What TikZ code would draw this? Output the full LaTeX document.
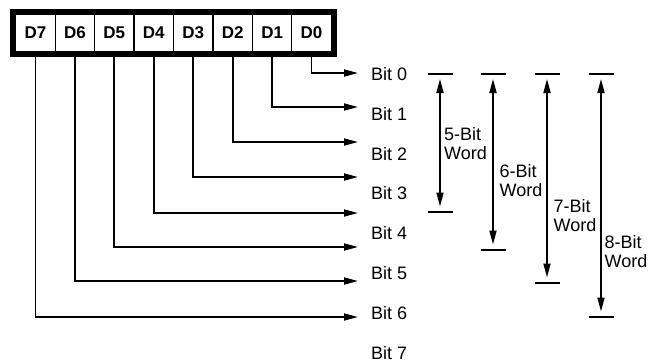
\documentclass[tikz,border=0pt]{standalone}
\usepackage{fontspec}
\setmainfont{Liberation Sans}
\usetikzlibrary{arrows.meta}
\begin{document}
\begin{tikzpicture}[x=1pt,y=-1pt,
  conn/.style={line width=1.7pt},
  arr/.style={conn,-{Triangle[length=14pt,width=7pt]}},
  darr/.style={conn,{Triangle[length=14pt,width=7pt]}-{Triangle[length=14pt,width=7pt]},shorten <=5pt,shorten >=5.5pt},
  cell/.style={draw,line width=1.2pt,minimum width=39.45pt,minimum height=38pt,inner sep=0pt,fill=white,font=\fontsize{17}{19}\selectfont\bfseries},
  bitlbl/.style={anchor=base west,inner sep=0pt,font=\fontsize{18}{20}\selectfont},
  wordlbl/.style={anchor=north west,inner sep=0pt,align=left,font=\fontsize{18}{18.5}\selectfont},
  tick/.style={line width=1.7pt},
  frame/.style={line width=5.5pt}
]
\useasboundingbox (0,0) rectangle (651,362);
% register cells
\foreach \i/\n in {0/7,1/6,2/5,3/4,4/3,5/2,6/1,7/0}{
  \node[cell] (c\n) at ({15.7+39.45*(\i+0.5)},33) {D\n};
}
\draw[frame] (13.2,11.8) rectangle (333.8,54.5);
% arrow end points
\foreach \n/\y in {0/73,1/107,2/142,3/177,4/213,5/247,6/281,7/317}{
  \coordinate (e\n) at (358,\y);
}
\foreach \n in {0,...,7}{
  \draw[arr] (c\n.south) |- (e\n);
}
% bit labels
\foreach \k in {0,...,7}{
  \node[bitlbl] (lbl\k) at (371,{80.5+39.8*\k}) {Bit \k};
}
% word ranges
\foreach \w/\x/\yb in {5/440/212,6/493/250,7/547/283,8/601/317}{
  \coordinate (wt\w) at (\x,74);
  \coordinate (wb\w) at (\x,\yb);
  \draw[tick] ([xshift=-12.5pt]wt\w) -- ([xshift=12.5pt]wt\w);
  \draw[tick] ([xshift=-12.5pt]wb\w) -- ([xshift=12.5pt]wb\w);
  \draw[darr] (wt\w) -- (wb\w);
}
\node[wordlbl] (w5) at (444,127.5) {5-Bit\\Word};
\node[wordlbl] (w6) at (499.5,164.5) {6-Bit\\Word};
\node[wordlbl] (w7) at (553.5,199.5) {7-Bit\\Word};
\node[wordlbl] (w8) at (604.5,235.5) {8-Bit\\Word};
\end{tikzpicture}
\end{document}
